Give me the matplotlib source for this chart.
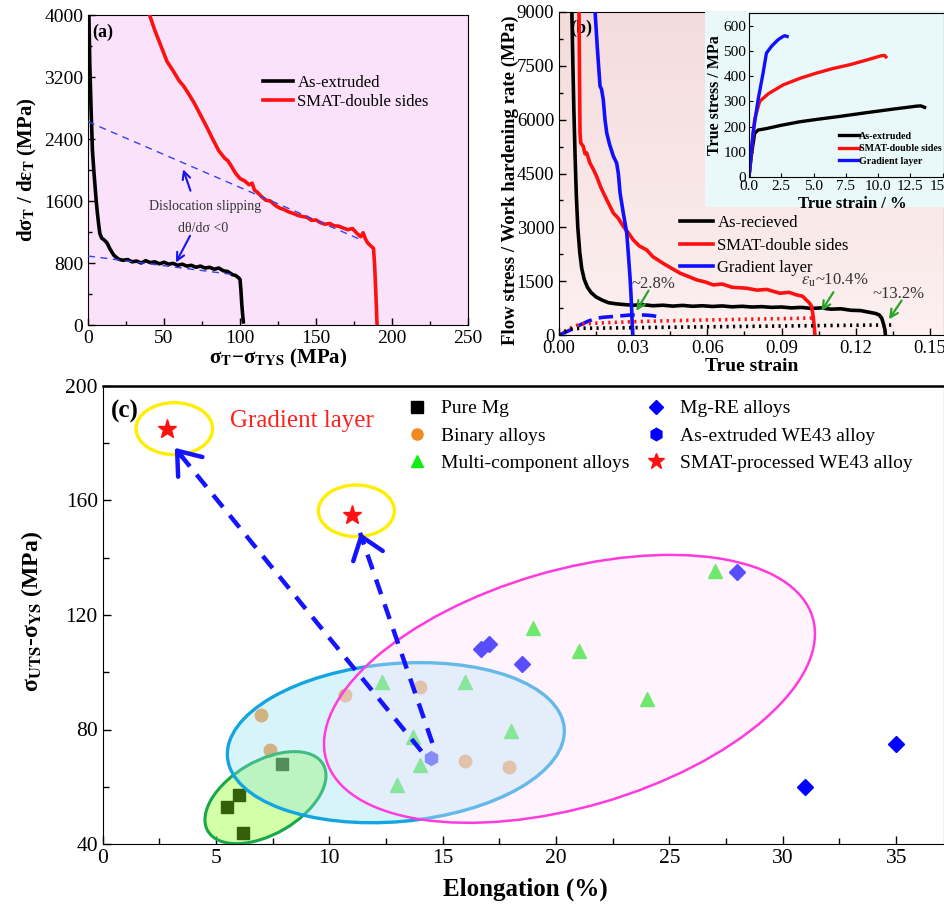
import numpy as np
import matplotlib
matplotlib.use('Agg')
import matplotlib.pyplot as plt
from matplotlib.patches import Ellipse, Rectangle
from matplotlib.lines import Line2D
import matplotlib.transforms as mtransforms
from matplotlib.ticker import MultipleLocator, FormatStrFormatter
from matplotlib.colors import LinearSegmentedColormap

plt.rcParams['font.family'] = ['Liberation Serif', 'DejaVu Serif']
plt.rcParams['mathtext.fontset'] = 'stix'

# ---------------- Panel (a) data ----------------
a_ext_x = [0.6, 1.2, 2.0, 2.9, 3.8, 4.6, 5.4, 6.2, 7.0, 7.8, 9.0, 10.5, 12.5, 14.5, 17, 20, 23, 26,
           29, 32, 35, 38, 41, 44, 47, 50, 53, 56, 59, 62, 65, 68, 71, 74, 77, 80, 83, 86, 89,
           92, 95, 97, 99, 100, 100.6, 101.2, 101.8, 102.2]
a_ext_y = [4000, 3350, 2800, 2260, 2000, 1800, 1600, 1440, 1300, 1180, 1120, 1100, 1060, 980, 900,
           850, 835, 845, 815, 825, 800, 830, 805, 815, 790, 810, 785, 795, 770, 785, 760, 770, 745,
           760, 735, 745, 720, 735, 700, 690, 650, 640, 610, 590, 450, 260, 120, 40]
a_smat_x = [40.5, 44, 48, 52, 56, 60, 63, 66, 70, 74, 78, 82, 86, 88, 90, 92, 94, 97, 100, 103, 106,
            108, 109.5, 111, 114, 117, 120, 123, 126, 129, 132, 135, 138, 141, 144, 147, 150, 153,
            156, 159, 162, 165, 168, 171, 174, 177, 179.5, 181, 182.5, 184, 186, 187.8, 188.5,
            189.2, 189.7, 190.0, 190.2]
a_smat_y = [4000, 3800, 3600, 3400, 3280, 3150, 3080, 2990, 2860, 2710, 2560, 2400, 2250, 2200, 2150,
            2120, 2060, 1960, 1890, 1860, 1810, 1830, 1740, 1720, 1660, 1610, 1600, 1545, 1510,
            1490, 1460, 1440, 1415, 1400, 1390, 1350, 1355, 1320, 1300, 1310, 1280, 1275, 1250,
            1230, 1245, 1180, 1140, 1190, 1110, 1060, 1020, 990, 800, 500, 250, 80, 0]
a_fit1_x = [0, 180]
a_fit1_y = [2623, 1097]
a_fit2_x = [0, 98]
a_fit2_y = [890, 645]
a_labels = ['As-extruded', 'SMAT-double sides']

# ---------------- Panel (b) data ----------------
b_rec_x = [0.0052, 0.0056, 0.006, 0.0065, 0.007, 0.0076, 0.0084, 0.0092, 0.0102, 0.0115, 0.013,
           0.015, 0.0175, 0.02, 0.023, 0.026, 0.03, 0.034, 0.038, 0.042, 0.046, 0.05, 0.054, 0.058,
           0.062, 0.066, 0.07, 0.074, 0.078, 0.082, 0.086, 0.09, 0.094, 0.098, 0.102, 0.106, 0.11,
           0.114, 0.118, 0.122, 0.125, 0.128, 0.1295, 0.1305, 0.1312, 0.1318, 0.132]
b_rec_y = [9000, 7600, 6300, 5000, 3900, 3000, 2300, 1850, 1550, 1330, 1180, 1060, 970, 900, 870,
           850, 830, 845, 815, 830, 805, 825, 800, 815, 795, 810, 785, 800, 780, 790, 770, 780,
           755, 770, 740, 755, 720, 730, 690, 680, 640, 600, 560, 470, 320, 150, 0]
b_smat_x = [0.0081, 0.0083, 0.0085, 0.0088, 0.0098, 0.0105, 0.0112, 0.0125, 0.014, 0.0152, 0.017,
            0.0193, 0.022, 0.024, 0.026, 0.028, 0.030, 0.0325, 0.0354, 0.038, 0.042, 0.045, 0.049,
            0.052, 0.0557, 0.059, 0.0624, 0.066, 0.07, 0.0759, 0.08, 0.084, 0.0894, 0.093, 0.0961,
            0.0985, 0.1, 0.1012, 0.1022, 0.1028, 0.1032, 0.1035]
b_smat_y = [9000, 7200, 5631, 5351, 5258, 5050, 5072, 4793, 4600, 4421, 4100, 3769, 3397, 3250,
            3025, 2850, 2652, 2480, 2373, 2180, 2001, 1880, 1722, 1640, 1536, 1480, 1396, 1420,
            1330, 1303, 1250, 1270, 1163, 1190, 1117, 1080, 977, 900, 791, 512, 250, 0]
b_grad_x = [0.0146, 0.0155, 0.0166, 0.0172, 0.0179, 0.0186, 0.0193, 0.0205, 0.022, 0.0233, 0.024,
            0.0247, 0.026, 0.0274, 0.028, 0.0287, 0.0291, 0.0294, 0.0296, 0.0298]
b_grad_y = [9000, 8000, 6934, 6850, 6561, 6000, 5631, 5300, 4979, 4793, 4500, 3955, 3400, 2838,
            2300, 1629, 1150, 698, 300, 0]
b_fgrad_x = [0, 0.003, 0.0055, 0.0085, 0.012, 0.015, 0.018, 0.022, 0.026, 0.029, 0.032, 0.035,
             0.0375, 0.0395]
b_fgrad_y = [0, 90, 170, 280, 390, 465, 495, 515, 540, 558, 560, 555, 540, 520]
b_fsmat_x = [0, 0.003, 0.006, 0.0085, 0.012, 0.02, 0.03, 0.04, 0.05, 0.06, 0.07, 0.08, 0.09, 0.1,
             0.104]
b_fsmat_y = [0, 130, 240, 300, 320, 345, 370, 390, 405, 420, 432, 445, 455, 470, 478]
b_frec_x = [0, 0.002, 0.004, 0.006, 0.01, 0.02, 0.04, 0.06, 0.08, 0.1, 0.12, 0.135]
b_frec_y = [0, 80, 150, 180, 188, 195, 212, 228, 243, 258, 272, 280]
b_labels = ['As-recieved', 'SMAT-double sides', 'Gradient layer']

# inset (true strain in %, true stress in MPa)
ins_ext_x = [0, 0.2, 0.44, 0.7, 1.35, 2.5, 3.94, 5.5, 7.0, 9.1, 11.0, 13.0, 13.3, 13.6]
ins_ext_y = [0, 90, 173, 186, 192, 205, 219, 230, 240, 255, 268, 281, 282, 276]
ins_smat_x = [0, 0.2, 0.44, 0.83, 1.5, 2.64, 4.0, 5.23, 6.5, 7.8, 9.0, 10.2, 10.5, 10.6]
ins_smat_y = [0, 110, 230, 300, 330, 365, 392, 412, 430, 445, 462, 480, 482, 476]
ins_grad_x = [0, 0.31, 0.7, 1.09, 1.35, 1.74, 2.25, 2.6, 2.77, 2.95]
ins_grad_y = [0, 173, 305, 412, 491, 518, 544, 556, 560, 557]
ins_labels = ['As-extruded', 'SMAT-double sides', 'Gradient layer']

# ---------------- Panel (c) data ----------------
pure_x = [6.0, 5.5, 6.2, 7.9]
pure_y = [57, 53, 44, 68]
bin_x = [7.0, 7.4, 10.7, 14.0, 16.0, 17.9]
bin_y = [85, 73, 92, 95, 69, 67]
multi_x = [12.3, 13.7, 14.0, 13.0, 16.0, 18.0, 19.0, 21.0, 24.0, 27.0]
multi_y = [96.5, 77.5, 67.7, 60.5, 96.5, 79.5, 115.4, 107.3, 90.5, 135.4]
mgre_x = [16.7, 17.05, 18.5, 28.0, 31.0, 35.0]
mgre_y = [108, 110, 103, 135, 60, 75]
we43_x = [14.5]
we43_y = [70]
smatwe_x = [2.85, 11.0]
smatwe_y = [185, 155]
c_labels = ['Pure Mg', 'Binary alloys', 'Multi-component alloys',
            'Mg-RE alloys', 'As-extruded WE43 alloy', 'SMAT-processed WE43 alloy']

# ---------------- Figure ----------------
W, H = 944, 911
fig = plt.figure(figsize=(W / 100, H / 100), dpi=100)


def fr(l, t, r, b):
    return [l / W, 1 - b / H, (r - l) / W, (b - t) / H]


def style_ticks(ax, size):
    ax.tick_params(which='both', direction='in', top=False, right=False, labelsize=size)
    ax.tick_params(which='major', length=5, width=1)
    ax.tick_params(which='minor', length=3, width=1)


# ===== Panel (a) =====
axa = fig.add_axes(fr(88, 15, 468, 325))
axa.set_facecolor('#fae2fa')
axa.plot(a_ext_x, a_ext_y, color='black', lw=2.6, label=a_labels[0], zorder=3)
axa.plot(a_smat_x, a_smat_y, color='#ff1010', lw=2.6, label=a_labels[1], zorder=3)
axa.plot(a_fit1_x, a_fit1_y, color='#3344ee', lw=1.0, ls=(0, (5, 4)), zorder=4)
axa.plot(a_fit2_x, a_fit2_y, color='#3344ee', lw=1.0, ls=(0, (5, 4)), zorder=4)
axa.set_xlim(0, 250)
axa.set_ylim(0, 4000)
axa.xaxis.set_major_locator(MultipleLocator(50))
axa.xaxis.set_minor_locator(MultipleLocator(25))
axa.yaxis.set_major_locator(MultipleLocator(800))
axa.yaxis.set_minor_locator(MultipleLocator(400))
style_ticks(axa, 14)
axa.set_xlabel('σ$_\\mathbf{T}$−σ$_\\mathbf{TYS}$ (MPa)', fontsize=15, fontweight='bold')
axa.set_ylabel('dσ$_\\mathbf{T}$ / dε$_\\mathbf{T}$ (MPa)', fontsize=15, fontweight='bold')
axa.xaxis.set_label_coords(0.5, -0.07)
axa.yaxis.set_label_coords(-0.13, 0.5)
axa.text(0.01, 0.945, '(a)', transform=axa.transAxes, fontsize=13, fontweight='bold', va='center')
axa.text(77, 1530, 'Dislocation slipping', fontsize=10, color='#333333', ha='center', va='center')
axa.text(76, 1250, 'dθ/dσ <0', fontsize=10, color='#333333', ha='center', va='center')
axa.annotate('', xy=(62, 2043), xytext=(68, 1699),
             arrowprops=dict(arrowstyle='->', color='#1515ee', lw=1.5, mutation_scale=14))
axa.annotate('', xy=(57, 774), xytext=(68, 1183),
             arrowprops=dict(arrowstyle='->', color='#1515ee', lw=1.5, mutation_scale=14))
axa.legend(loc='upper left', bbox_to_anchor=(0.461, 0.807), frameon=False, fontsize=12,
           handlelength=1.8, handletextpad=0.25, labelspacing=0.2, borderpad=0, borderaxespad=0)

# ===== Panel (b) =====
axb = fig.add_axes(fr(559, 12, 944, 335))
grad = np.linspace(0, 1, 64).reshape(-1, 1)
cmap_b = LinearSegmentedColormap.from_list('bbg', ['#fcf0f0', '#f5dcdc'])
axb.imshow(grad, extent=[0, 1, 0, 1], transform=axb.transAxes, aspect='auto', cmap=cmap_b,
           origin='lower', zorder=0)
axb.plot(b_rec_x, b_rec_y, color='black', lw=2.6, label=b_labels[0], zorder=3)
axb.plot(b_smat_x, b_smat_y, color='#ff1010', lw=2.6, label=b_labels[1], zorder=3)
axb.plot(b_grad_x, b_grad_y, color='#1010ff', lw=2.6, label=b_labels[2], zorder=3)
axb.plot(b_fgrad_x, b_fgrad_y, color='#1010ff', lw=2.6, ls=(0, (4, 2)), zorder=3)
axb.plot(b_fsmat_x, b_fsmat_y, color='#ff1010', lw=2.6, ls=(0, (0.6, 1.2)), zorder=3)
axb.plot(b_frec_x, b_frec_y, color='black', lw=2.6, ls=(0, (0.6, 1.2)), zorder=3)
axb.set_xlim(0, 0.1557)
axb.set_ylim(0, 9000)
axb.xaxis.set_major_locator(MultipleLocator(0.03))
axb.xaxis.set_minor_locator(MultipleLocator(0.015))
axb.xaxis.set_major_formatter(FormatStrFormatter('%.2f'))
axb.yaxis.set_major_locator(MultipleLocator(1500))
axb.yaxis.set_minor_locator(MultipleLocator(750))
style_ticks(axb, 13.5)
axb.set_xlabel('True strain', fontsize=14, fontweight='bold')
axb.set_ylabel('Flow stress / Work hardening rate (MPa)', fontsize=13.5, fontweight='bold')
axb.xaxis.set_label_coords(0.5, -0.07)
axb.yaxis.set_label_coords(-0.105, 0.48)
axb.text(0.03, 0.95, '(b)', transform=axb.transAxes, fontsize=13, fontweight='bold',
         va='center', zorder=2)
axb.legend(loc='upper left', bbox_to_anchor=(0.314, 0.371), frameon=False, fontsize=12,
           handlelength=2.0, handletextpad=0.25, labelspacing=0.38, borderpad=0, borderaxespad=0)
green = '#2aa52a'
axb.annotate('', xy=(0.0307, 605), xytext=(0.0368, 1303),
             arrowprops=dict(arrowstyle='->', color=green, lw=1.6, mutation_scale=14), zorder=5)
axb.annotate('', xy=(0.1055, 605), xytext=(0.1116, 1256),
             arrowprops=dict(arrowstyle='->', color=green, lw=1.6, mutation_scale=14), zorder=5)
axb.annotate('', xy=(0.1328, 372), xytext=(0.1392, 1024),
             arrowprops=dict(arrowstyle='->', color=green, lw=1.6, mutation_scale=14), zorder=5)
axb.text(0.0292, 1420, '~2.8%', fontsize=12, color='#333333', ha='left', va='center', zorder=5)
axb.text(0.0978, 1520, r'$\varepsilon_{\mathrm{u}}$~10.4%', fontsize=12, color='#333333',
         ha='left', va='center', zorder=5)
axb.text(0.1268, 1150, '~13.2%', fontsize=12, color='#333333', ha='left', va='center', zorder=5)

# inset background + axes
fig.patches.append(Rectangle((705 / W, 1 - 207 / H), (W - 705) / W, 195 / H,
                             transform=fig.transFigure, facecolor='#e9f8f8', edgecolor='none',
                             zorder=1))
axi = fig.add_axes(fr(749, 13, 944, 177))
axi.set_zorder(5)
axi.set_facecolor('#e9f8f8')
axi.plot(ins_ext_x, ins_ext_y, color='black', lw=2.4, label=ins_labels[0])
axi.plot(ins_smat_x, ins_smat_y, color='#ff1010', lw=2.4, label=ins_labels[1])
axi.plot(ins_grad_x, ins_grad_y, color='#1010ff', lw=2.4, label=ins_labels[2])
axi.set_xlim(0, 15.1)
axi.set_ylim(0, 650)
axi.xaxis.set_major_locator(MultipleLocator(2.5))
axi.xaxis.set_major_formatter(FormatStrFormatter('%.1f'))
axi.yaxis.set_major_locator(MultipleLocator(100))
axi.tick_params(which='both', direction='in', labelsize=11, length=3, pad=2)
axi.set_xlabel('True strain / %', fontsize=12, fontweight='bold')
axi.set_ylabel('True stress / MPa', fontsize=11.5, fontweight='bold')
axi.xaxis.set_label_coords(0.53, -0.115)
axi.yaxis.set_label_coords(-0.135, 0.5)
leg_i = axi.legend(loc='upper left', bbox_to_anchor=(0.46, 0.276), frameon=False,
                   prop={'size': 7.2, 'weight': 'bold'}, handlelength=2.0,
                   handletextpad=0.05, labelspacing=0.35, borderpad=0, borderaxespad=0)

# ===== Panel (c) =====
axc = fig.add_axes(fr(102.7, 386, 944, 844))
axc.plot(pure_x, pure_y, ls='none', marker='s', ms=9, color='black', zorder=2)
axc.plot(bin_x, bin_y, ls='none', marker='o', ms=9, color='#f59a45', zorder=2)
axc.plot(multi_x, multi_y, ls='none', marker='^', ms=10, color='#22ee22', zorder=2)
axc.plot(mgre_x, mgre_y, ls='none', marker='D', ms=8.5, color='#0000ff', zorder=2)
axc.plot(we43_x, we43_y, ls='none', marker='h', ms=10, color='#2020ff', zorder=2)


def px_ellipse(ax, cx, cy, a_px, b_px, ang, **kw):
    tr = fig.dpi_scale_trans + mtransforms.ScaledTranslation(cx, cy, ax.transData)
    e = Ellipse((0, 0), 2 * a_px / 100, 2 * b_px / 100, angle=ang, transform=tr, **kw)
    ax.add_patch(e)
    return e


px_ellipse(axc, 7.18, 56.2, 66.6, 36.7, 30, facecolor=(0.55, 1.0, 0.1, 0.38),
           edgecolor='#16a84a', lw=2.2, zorder=3)
px_ellipse(axc, 12.93, 75.4, 169, 79, 5, facecolor=(0.56, 0.88, 0.95, 0.35),
           edgecolor='#14a5e0', lw=2.4, zorder=4)
px_ellipse(axc, 20.59, 94.2, 253.4, 118.3, 16.3, facecolor=(1.0, 0.88, 0.98, 0.35),
           edgecolor='#ff3ade', lw=1.8, zorder=5)
px_ellipse(axc, 3.16, 185.1, 38.3, 26, 0, facecolor='none', edgecolor='#ffee00', lw=2.4, zorder=6)
px_ellipse(axc, 11.19, 156.4, 38, 25.8, 0, facecolor='none', edgecolor='#ffee00', lw=2.4, zorder=6)

axc.plot(smatwe_x, smatwe_y, ls='none', marker='*', ms=14, color='#ff1010', zorder=8)

arrow_c = [((14.06, 72.4), (3.18, 178.4)), ((14.54, 75.3), (11.35, 148.7))]
for (tx, ty), (hx, hy) in arrow_c:
    axc.plot([tx, hx], [ty, hy], color='#1414ff', lw=3.2, ls=(0, (3.5, 2.4)),
             solid_capstyle='butt', zorder=7)
    sx = hx + (tx - hx) * 0.03
    sy = hy + (ty - hy) * 0.03
    axc.annotate('', xy=(hx, hy), xytext=(sx, sy),
                 arrowprops=dict(arrowstyle='->, head_length=0.6, head_width=0.45',
                                 color='#1414ff', lw=3.2, mutation_scale=25,
                                 shrinkA=0, shrinkB=0), zorder=7)

axc.set_xlim(0, 37.11)
axc.set_ylim(40, 200)
axc.xaxis.set_major_locator(MultipleLocator(5))
axc.xaxis.set_minor_locator(MultipleLocator(2.5))
axc.yaxis.set_major_locator(MultipleLocator(40))
axc.yaxis.set_minor_locator(MultipleLocator(20))
style_ticks(axc, 15.5)
axc.tick_params(which='major', length=6)
axc.tick_params(which='minor', length=4)
axc.spines['top'].set_linewidth(1.8)
axc.set_xlabel('Elongation (%)', fontsize=18, fontweight='bold')
axc.set_ylabel('σ$_\\mathbf{UTS}$-σ$_\\mathbf{YS}$ (MPa)', fontsize=17, fontweight='bold')
axc.xaxis.set_label_coords(0.502, -0.074)
axc.yaxis.set_label_coords(-0.068, 0.507)
axc.text(0.0095, 0.944, '(c)', transform=axc.transAxes, fontsize=18, fontweight='bold', va='center')
axc.text(5.62, 187.9, 'Gradient layer', fontsize=18, color='#ff2020', ha='left', va='center')

h1 = [Line2D([], [], ls='none', marker='s', ms=8, color='black'),
      Line2D([], [], ls='none', marker='o', ms=8, color='#f08a20'),
      Line2D([], [], ls='none', marker='^', ms=9, color='#11ee11')]
h2 = [Line2D([], [], ls='none', marker='D', ms=7.5, color='#0000ff'),
      Line2D([], [], ls='none', marker='h', ms=9, color='#0000ff'),
      Line2D([], [], ls='none', marker='*', ms=12, color='#ff1010')]
lg1 = axc.legend(h1, c_labels[:3], loc='upper left', bbox_to_anchor=(0.3617, 0.97),
                 frameon=False, fontsize=14, handlelength=1.0, handletextpad=0.77,
                 labelspacing=0.5, borderpad=0, borderaxespad=0)
axc.add_artist(lg1)
axc.legend(h2, c_labels[3:], loc='upper left', bbox_to_anchor=(0.6458, 0.97),
           frameon=False, fontsize=14, handlelength=1.0, handletextpad=0.77,
           labelspacing=0.5, borderpad=0, borderaxespad=0)

fig.savefig('out.png', dpi=100)
